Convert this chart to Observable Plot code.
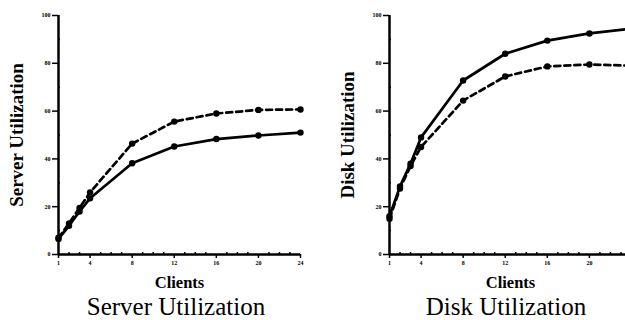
<!DOCTYPE html>
<html><head><meta charset="utf-8">
<script src="https://cdn.jsdelivr.net/npm/d3@7"></script>
<script src="https://cdn.jsdelivr.net/npm/@observablehq/plot@0.6"></script>
<style>
html,body{margin:0;padding:0;background:#fff;overflow:hidden;}
#wrap{position:relative;width:625px;height:320px;overflow:hidden;background:#fff;}
.panel{position:absolute;top:0;}
.cap{font-family:"Liberation Serif",serif;font-size:25px;line-height:22px;text-align:center;color:#000;white-space:nowrap;}
</style></head><body>
<div id="wrap"><div class="panel" id="p1"></div><div class="panel" id="p2"></div></div>
<script>
const clients = [1, 2, 3, 4, 8, 12, 16, 20, 24];
const serverSolid = [6.5, 12, 18, 23.5, 38.2, 45.2, 48.3, 49.8, 51];
const serverDashed = [7, 13, 19.5, 26, 46.4, 55.6, 59, 60.5, 60.7];
const diskSolid = [16, 28.5, 38, 49, 72.8, 84, 89.5, 92.5, 94.5];
const diskDashed = [15, 27.6, 37, 45, 64.4, 74.5, 78.7, 79.5, 79];
const serverXTicks = [1, 4, 8, 12, 16, 20, 24];
const diskXTicks = [1, 4, 8, 12, 16, 20];
const xMinorTicks = [2, 3, 5, 6, 7, 9, 10, 11, 13, 14, 15, 17, 18, 19, 21, 22, 23];
const yTicks = [0, 20, 40, 60, 80, 100];
const yMinorTicks = [10, 30, 50, 70, 90];
const yLabels = ["Server Utilization", "Disk Utilization"];
const xLabel = "Clients";

function rows(vals) { return clients.map((c, i) => ({x: c, y: vals[i]})); }

function panel(solid, dashed, yLabel, xTicks, marginLeft, width) {
  const s = rows(solid), d = rows(dashed);
  return Plot.plot({
    width, height: 296,
    marginLeft, marginRight: 12, marginTop: 15, marginBottom: 42,
    style: {fontFamily: "Liberation Serif", maxWidth: "none", background: "transparent", overflow: "visible"},
    x: {domain: [1, 24], axis: null},
    y: {domain: [0, 100], axis: null},
    marks: [
      Plot.axisX({ticks: xTicks, tickSize: 4, tickPadding: 2, fontSize: 6, fontWeight: "bold", label: null, strokeWidth: 1.5}),
      Plot.axisX({ticks: xMinorTicks, tickSize: -2, tickFormat: () => "", label: null, strokeWidth: 1.5}),
      Plot.axisY({ticks: yTicks, tickSize: 6, tickPadding: 2, fontSize: 6, fontWeight: "bold", label: null, strokeWidth: 1.5}),
      Plot.axisY({ticks: yMinorTicks, tickSize: -2, tickFormat: () => "", label: null, strokeWidth: 1.5}),
      Plot.ruleX([1], {strokeWidth: 2.5}),
      Plot.ruleY([0], {strokeWidth: 2.5}),
      Plot.line(d, {x: "x", y: "y", stroke: "#000", strokeWidth: 2.7, strokeDasharray: "6,4"}),
      Plot.line(s, {x: "x", y: "y", stroke: "#000", strokeWidth: 2.7}),
      Plot.dot(d, {x: "x", y: "y", r: 3.2, fill: "#000"}),
      Plot.dot(s, {x: "x", y: "y", r: 3.2, fill: "#000"}),
      Plot.text([yLabel], {frameAnchor: "left", textAnchor: "middle", rotate: -90, dx: -42, fontSize: 19, fontWeight: "bold", fill: "#000"}),
      Plot.text([xLabel], {frameAnchor: "bottom", dy: 33, fontSize: 16.5, fontWeight: "bold", fill: "#000"})
    ]
  });
}

function mount(id, left, width, plot, caption, padLeft) {
  const el = document.getElementById(id);
  el.style.left = left + "px";
  el.style.width = width + "px";
  el.appendChild(plot);
  const cap = document.createElement("div");
  cap.className = "cap";
  cap.style.paddingLeft = padLeft + "px";
  cap.textContent = caption;
  el.appendChild(cap);
}

mount("p1", 0, 312, panel(serverSolid, serverDashed, yLabels[0], serverXTicks, 58, 312), "Server Utilization", 40);
mount("p2", 312, 331, panel(diskSolid, diskDashed, yLabels[1], diskXTicks, 77, 331), "Disk Utilization", 57);
</script>
</body></html>
